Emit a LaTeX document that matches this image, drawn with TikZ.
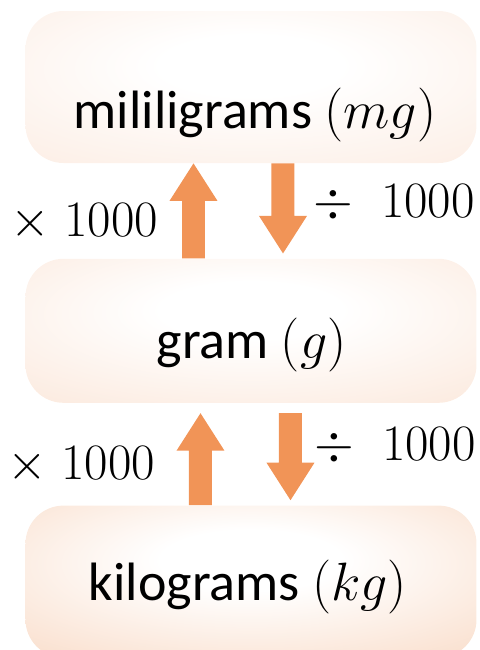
\RequirePackage{fix-cm}
\documentclass[tikz,border=0pt]{standalone}
\usepackage{fontspec}
\setmainfont{Carlito}
\usetikzlibrary{positioning,calc}
\definecolor{arrowCol}{HTML}{F19457}
\definecolor{edgeMg}{HTML}{FAE1D1}
\definecolor{edgeG}{HTML}{F9D9C4}
\definecolor{edgeKg}{HTML}{F5C4A3}
\colorlet{boxEdge}{edgeG}
\pgfdeclareradialshading[boxEdge]{boxglow}{\pgfpoint{0bp}{8bp}}{%
  color(0bp)=(white); color(10bp)=(white); color(62bp)=(boxEdge); color(85bp)=(boxEdge)}

\begin{document}
\begin{tikzpicture}[
    node distance=47.5pt,
    box/.style={shade, shading=boxglow, rounded corners=19pt, draw=none,
      minimum width=225.5pt, inner sep=0pt},
    unit/.style={font=\fontsize{27pt}{32pt}\selectfont, inner sep=0pt, anchor=base},
    factor/.style={font=\fontsize{25.5pt}{30pt}\selectfont, inner sep=0pt},
    blockarrow/.style={to path={
      ($(\tikztotarget)!18.75pt!(\tikztostart)$) coordinate (headbase)
      ($(\tikztostart)!5.75pt!90:(\tikztotarget)$)
      -- ($(headbase)!5.75pt!-90:(\tikztostart)$)
      -- ($(headbase)!12pt!-90:(\tikztostart)$)
      -- (\tikztotarget)
      -- ($(headbase)!12pt!90:(\tikztostart)$)
      -- ($(headbase)!5.75pt!90:(\tikztostart)$)
      -- ($(\tikztostart)!5.75pt!-90:(\tikztotarget)$)
      -- cycle}},
  ]
\useasboundingbox (0,0) rectangle (239.5pt,-325pt);

% Unit boxes
\node[box, minimum height=76pt, /utils/exec={\colorlet{boxEdge}{edgeMg}}] (mg) at (125.5pt,-43.5pt) {};
\node[box, minimum height=72pt, below=of mg, /utils/exec={\colorlet{boxEdge}{edgeG}}] (g) {};
\node[box, minimum height=76pt, below=51pt of g, /utils/exec={\colorlet{boxEdge}{edgeKg}}] (kg) {};

\node[unit] (mgtext) at (127.5pt,-64pt) {mililigrams $(mg)$};
\node[unit] (gtext) at (125.75pt,-179pt) {gram $(g)$};
\node[unit] (kgtext) at (124pt,-300pt) {kilograms $(kg)$};

% Arrows between the boxes
\fill[arrowCol] ([xshift=-28.75pt]g.north) to[blockarrow] ([xshift=-28.75pt]mg.south);
\fill[arrowCol] ([xshift=16pt]mg.south) to[blockarrow] ([xshift=16pt,yshift=2.5pt]g.north);
\fill[arrowCol] ([xshift=-25.25pt]kg.north) to[blockarrow] ([xshift=-25.25pt,yshift=-5pt]g.south);
\fill[arrowCol] ([xshift=19.75pt,yshift=-5pt]g.south) to[blockarrow] ([xshift=19.75pt,yshift=2.5pt]kg.north);

% Factors
\node[factor] (mulA) at (42.25pt,-111pt) {$\times\;1000$};
\node[factor] (divA) at (197pt,-101.5pt) {$\div\;\;1000$};
\node[factor] (mulB) at (40.75pt,-232.5pt) {$\times\;1000$};
\node[factor] (divB) at (197.5pt,-223pt) {$\div\;\;1000$};

\end{tikzpicture}
\end{document}
